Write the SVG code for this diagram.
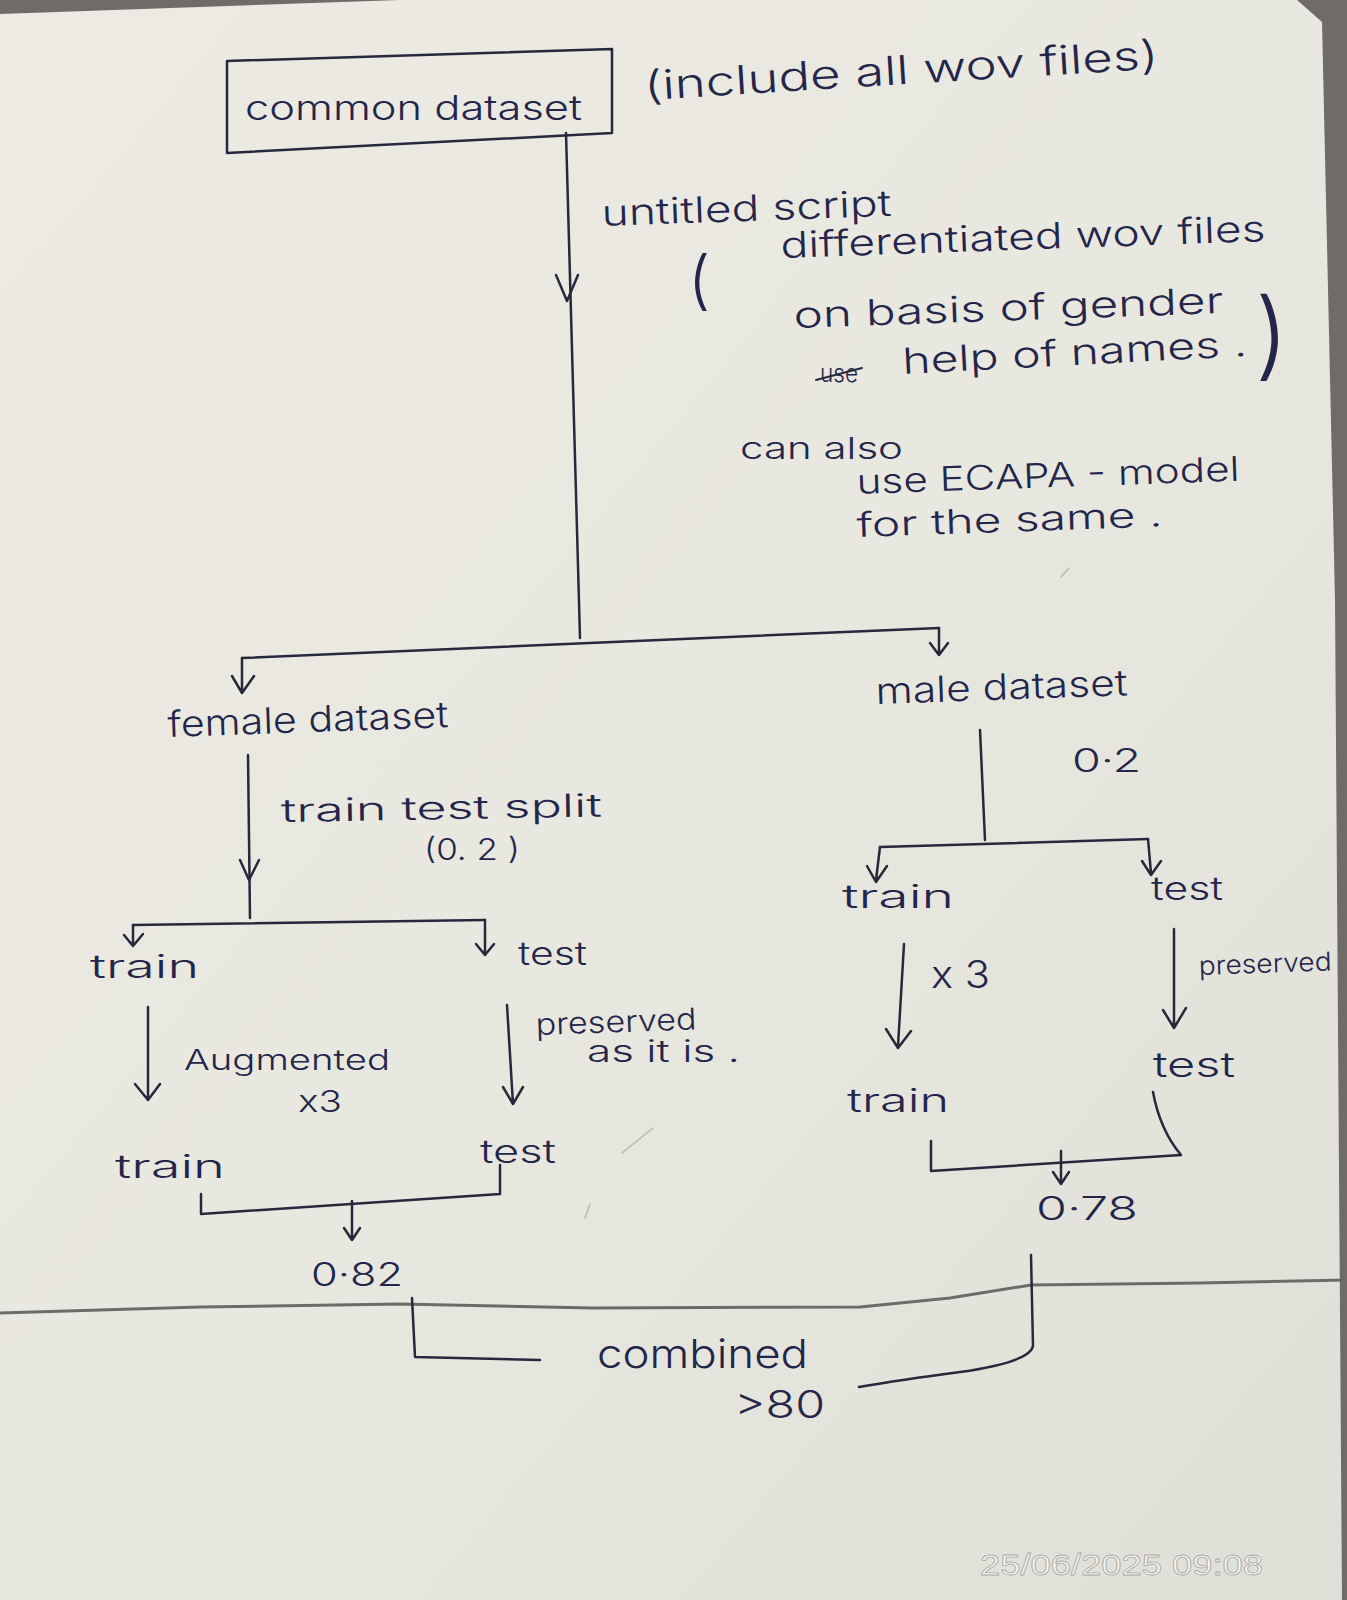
<svg xmlns="http://www.w3.org/2000/svg" width="1347" height="1600" viewBox="0 0 1347 1600">
<defs>
<linearGradient id="paper" x1="0" y1="0" x2="1" y2="1">
<stop offset="0" stop-color="#eceae2"/>
<stop offset="0.5" stop-color="#e9e8e0"/>
<stop offset="1" stop-color="#e0dfd7"/>
</linearGradient>
<style>
.ln{fill:none;stroke:#26283c;stroke-width:2.5;stroke-linecap:round;stroke-linejoin:round}
.t{font-family:Inter,Lato,"Liberation Sans",Arial,sans-serif;font-weight:300;fill:#23264a}
.faint{fill:none;stroke:#b9b8b0;stroke-width:1.5;stroke-linecap:round}
</style>
</defs>
<rect x="0" y="0" width="1347" height="1600" fill="#6f6b66"/>
<polygon points="0,14 400,0 1297,0 1322,22 1335,600 1342,1600 0,1600" fill="url(#paper)"/>
<polyline points="0,1313 200,1307 400,1304 593,1308 860,1307 950,1298 1031,1285 1200,1283 1347,1280" fill="none" stroke="#6b6b68" stroke-width="3"/>
<g class="faint">
<line x1="622" y1="1153" x2="653" y2="1128"/>
<line x1="585" y1="1218" x2="590" y2="1204"/>
<line x1="1061" y1="577" x2="1069" y2="568"/>
</g>

<g id="connectors" class="ln">
<path d="M566,133 L580,638"/>
<path d="M556,275 L567,301 L578,275"/>
<path d="M242,658 L939,628"/>
<path d="M242,658 L242,693 M232,676 L242,693 L254,676"/>
<path d="M939,628 L939,655 M930,643 L939,655 L948,643"/>
<path d="M248,755 L250,918"/>
<path d="M240,860 L249,880 L259,860"/>
<path d="M133,925 L485,920"/>
<path d="M133,925 L133,945 M124,935 L133,946 L143,934"/>
<path d="M485,920 L485,955 M476,944 L485,955 L494,944"/>
<path d="M148,1007 L148,1100 M135,1084 L148,1100 L160,1084"/>
<path d="M507,1005 L513,1104 M503,1087 L513,1104 L523,1087"/>
<path d="M201,1194 L201,1214 L500,1194 L500,1165"/>
<path d="M352,1201 L352,1240 M344,1228 L352,1240 L360,1228"/>
<path d="M980,730 L985,840"/>
<path d="M880,847 L1148,839"/>
<path d="M880,847 L876,880 M867,866 L876,882 L887,866"/>
<path d="M1148,839 L1151,873 M1142,861 L1151,875 L1161,861"/>
<path d="M904,944 L898,1046 M886,1029 L898,1048 L911,1031"/>
<path d="M1174,929 L1174,1026 M1163,1010 L1174,1028 L1186,1008"/>
<path d="M1153,1092 Q1160,1130 1181,1155 L931,1171 L931,1141"/>
<path d="M1061,1151 L1061,1184 M1053,1172 L1061,1184 L1069,1172"/>
<path d="M412,1298 L415,1357 L540,1360"/>
<path d="M1031,1255 L1033,1346 Q1030,1362 960,1372 Q900,1380 859,1387"/>
</g>

<g id="common-dataset">
<path class="ln" d="M227,61 L612,49 L612,133 L227,153 Z"/>
<text class="t" x="245" y="120" font-size="34" textLength="337" lengthAdjust="spacingAndGlyphs">common dataset</text>
</g>
<g id="note-include">
<text class="t" x="645" y="100" font-size="40" textLength="515" lengthAdjust="spacingAndGlyphs" transform="rotate(-3.5 645 100)">(include all wov files)</text>
</g>
<g id="note-script">
<text class="t" x="602" y="226" font-size="36" textLength="290" lengthAdjust="spacingAndGlyphs" transform="rotate(-2 602 226)">untitled script</text>
<text class="t" x="688" y="302" font-size="64">(</text>
<text class="t" x="781" y="258" font-size="36" textLength="485" lengthAdjust="spacingAndGlyphs" transform="rotate(-2 781 258)">differentiated wov files</text>
<text class="t" x="794" y="328" font-size="36" textLength="430" lengthAdjust="spacingAndGlyphs" transform="rotate(-2 794 328)">on basis of gender</text>
<text class="t" x="820" y="382" font-size="24" textLength="38" lengthAdjust="spacingAndGlyphs">use</text>
<line class="ln" x1="816" y1="380" x2="862" y2="368" style="stroke-width:2"/>
<text class="t" x="903" y="374" font-size="36" textLength="345" lengthAdjust="spacingAndGlyphs" transform="rotate(-3 903 374)">help of names .</text>
<text class="t" x="1255" y="368" font-size="96">)</text>
<text class="t" x="740" y="459" font-size="30" textLength="163" lengthAdjust="spacingAndGlyphs">can also</text>
<text class="t" x="857" y="494" font-size="34" textLength="383" lengthAdjust="spacingAndGlyphs" transform="rotate(-2 857 494)">use ECAPA - model</text>
<text class="t" x="857" y="537" font-size="34" textLength="306" lengthAdjust="spacingAndGlyphs" transform="rotate(-2 857 537)">for the same .</text>
</g>

<g id="female-dataset">
<text class="t" x="168" y="737" font-size="36" textLength="281" lengthAdjust="spacingAndGlyphs" transform="rotate(-2 168 737)">female dataset</text>
</g>
<g id="female-split-label">
<text class="t" x="281" y="822" font-size="32" textLength="321" lengthAdjust="spacingAndGlyphs" transform="rotate(-1 281 822)">train test split</text>
<text class="t" x="424" y="860" font-size="30" textLength="96" lengthAdjust="spacingAndGlyphs">(0. 2 )</text>
</g>
<g id="female-train">
<text class="t" x="90" y="978" font-size="32" textLength="109" lengthAdjust="spacingAndGlyphs">train</text>
</g>
<g id="female-test">
<text class="t" x="518" y="965" font-size="32" textLength="69" lengthAdjust="spacingAndGlyphs">test</text>
</g>
<g id="female-augment-label">
<text class="t" x="184" y="1070" font-size="28" textLength="206" lengthAdjust="spacingAndGlyphs">Augmented</text>
<text class="t" x="298" y="1112" font-size="30" textLength="44" lengthAdjust="spacingAndGlyphs">x3</text>
</g>
<g id="female-preserve-label">
<text class="t" x="536" y="1035" font-size="30" textLength="161" lengthAdjust="spacingAndGlyphs" transform="rotate(-2 536 1035)">preserved</text>
<text class="t" x="587" y="1062" font-size="30" textLength="153" lengthAdjust="spacingAndGlyphs">as it is .</text>
</g>
<g id="female-train-out">
<text class="t" x="115" y="1178" font-size="32" textLength="110" lengthAdjust="spacingAndGlyphs">train</text>
</g>
<g id="female-test-out">
<text class="t" x="480" y="1163" font-size="32" textLength="76" lengthAdjust="spacingAndGlyphs">test</text>
</g>
<g id="female-score">
<text class="t" x="311" y="1286" font-size="32" textLength="92" lengthAdjust="spacingAndGlyphs">0·82</text>
</g>

<g id="male-dataset">
<text class="t" x="876" y="704" font-size="36" textLength="252" lengthAdjust="spacingAndGlyphs" transform="rotate(-2 876 704)">male dataset</text>
</g>
<g id="male-split-label">
<text class="t" x="1072" y="772" font-size="32" textLength="69" lengthAdjust="spacingAndGlyphs">0·2</text>
</g>
<g id="male-train">
<text class="t" x="842" y="908" font-size="32" textLength="112" lengthAdjust="spacingAndGlyphs">train</text>
</g>
<g id="male-test">
<text class="t" x="1151" y="900" font-size="32" textLength="72" lengthAdjust="spacingAndGlyphs">test</text>
</g>
<g id="male-augment-label">
<text class="t" x="931" y="988" font-size="38" textLength="59" lengthAdjust="spacingAndGlyphs">x 3</text>
</g>
<g id="male-preserve-label">
<text class="t" x="1199" y="975" font-size="26" textLength="133" lengthAdjust="spacingAndGlyphs" transform="rotate(-2 1199 975)">preserved</text>
</g>
<g id="male-train-out">
<text class="t" x="847" y="1112" font-size="32" textLength="102" lengthAdjust="spacingAndGlyphs">train</text>
</g>
<g id="male-test-out">
<text class="t" x="1153" y="1077" font-size="34" textLength="82" lengthAdjust="spacingAndGlyphs">test</text>
</g>
<g id="male-score">
<text class="t" x="1036" y="1220" font-size="32" textLength="102" lengthAdjust="spacingAndGlyphs">0·78</text>
</g>

<g id="combined">
<text class="t" x="597" y="1368" font-size="40" textLength="211" lengthAdjust="spacingAndGlyphs">combined</text>
<text class="t" x="734" y="1418" font-size="38" textLength="91" lengthAdjust="spacingAndGlyphs">&gt;80</text>
</g>

<g id="timestamp">
<text x="980" y="1575" font-family="'Liberation Sans Narrow','Liberation Sans',Arial,sans-serif" font-size="30" fill="#f6f6f4" stroke="#a9a8a2" stroke-width="0.8" textLength="283" lengthAdjust="spacingAndGlyphs">25/06/2025  09:08</text>
</g>
</svg>
